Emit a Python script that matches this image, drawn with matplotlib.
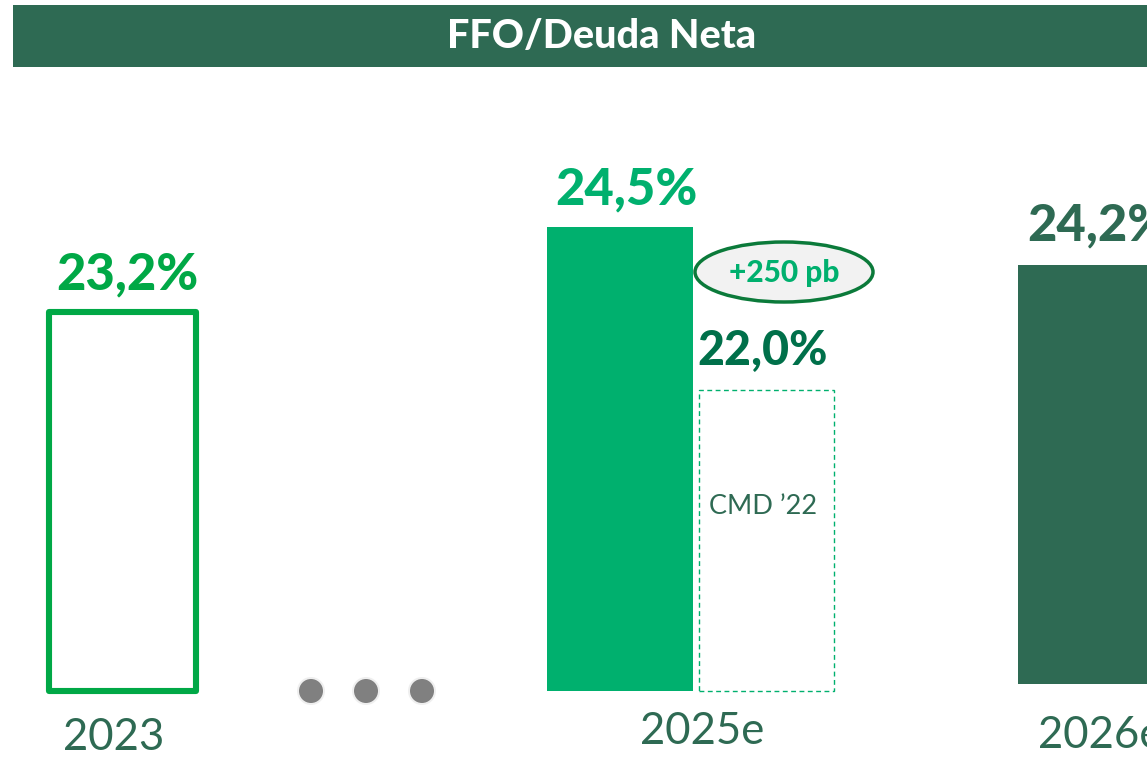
import numpy as np
import matplotlib.pyplot as plt
from matplotlib.patches import Ellipse, Rectangle, Circle

plt.rcParams['font.family'] = ['Lato', 'DejaVu Sans']

# values
years = ["2023", "2025e", "2026e"]
ffo_2023 = 23.2
ffo_2025 = 24.5
cmd_2022 = 22.0
ffo_2026 = 24.2
gap_label = "+250 pb"
cmd_label = "CMD \u201922"
title = "FFO/Deuda Neta"

dark = "#2E6A53"
green = "#00A846"
mint = "#00B06E"
deep = "#00704A"

W, H = 1147, 758
fig = plt.figure(figsize=(W / 100, H / 100), dpi=100)

# the bars share a baseline that is not zero, so the scale starts at it
base = 17.38
px_per = 65.2
ax = fig.add_axes([0, 0, 1, 1])
ax.set_xlim(0, W)
ax.set_ylim(base - (H - 691) / px_per, base + 691 / px_per)
ax.axis("off")

# 2026e sits on its own little chart with a slightly different scale
ax2 = fig.add_axes([0, 0, 1, 1])
px2 = (684 - 265) / (ffo_2026 - base)
ax2.set_xlim(0, W)
ax2.set_ylim(base - (H - 684) / px2, base + 684 / px2)
ax2.axis("off")

ax.bar(122.5, ffo_2023 - base, bottom=base, width=147, facecolor="none",
       edgecolor=green, linewidth=4.4, joinstyle="round")
ax.bar(620, ffo_2025 - base, bottom=base, width=146, color=mint)
ax.bar(766.5, cmd_2022 - base, bottom=base, width=135, facecolor="none",
       edgecolor=mint, linewidth=1, linestyle=(0, (3.5, 2.5)))
ax2.bar(1091, ffo_2026 - base, bottom=base, width=146, color=dark)

def value_label(a, x, v, color, size=36.5, dy=16):
    a.annotate(f"{v:.1f}%".replace(".", ","), (x, v), xytext=(0, dy),
               textcoords="offset points", ha="center", va="baseline",
               fontsize=size, fontweight=900, color=color)

value_label(ax, 127, ffo_2023, green)
value_label(ax, 626, ffo_2025, mint)
value_label(ax, 763, cmd_2022, deep, size=33.5, dy=18)
value_label(ax2, 1098, ffo_2026, dark, dy=18)

# overlay in pixel coordinates for the slide decorations
ov = fig.add_axes([0, 0, 1, 1], facecolor="none")
ov.set_xlim(0, W)
ov.set_ylim(H, 0)
ov.axis("off")

ov.add_patch(Rectangle((13, 5), W, 62, color=dark, lw=0))
ov.text(602, 37, title, ha="center", va="center", fontsize=28.5,
        fontweight=900, color="white")

ov.add_patch(Ellipse((784, 272), 178, 60, facecolor="#F2F2F2",
                     edgecolor="#0B7A3A", linewidth=2.5))
ov.text(784, 273, gap_label, ha="center", va="center", fontsize=21.5,
        fontweight=900, color=mint)

ov.text(763, 507, cmd_label, ha="center", va="center", fontsize=19.5,
        color=dark)

for cx in [311, 366, 422]:
    ov.add_patch(Circle((cx, 691), 14, color="#EFEFEF", lw=0))
    ov.add_patch(Circle((cx, 691), 12, color="#808080", lw=0))

for x, y, t in zip([114, 702, 1100], [737, 732, 735], years):
    ov.text(x, y, t, ha="center", va="center", fontsize=31.5, color=dark)

fig.savefig("out.png", dpi=100)
